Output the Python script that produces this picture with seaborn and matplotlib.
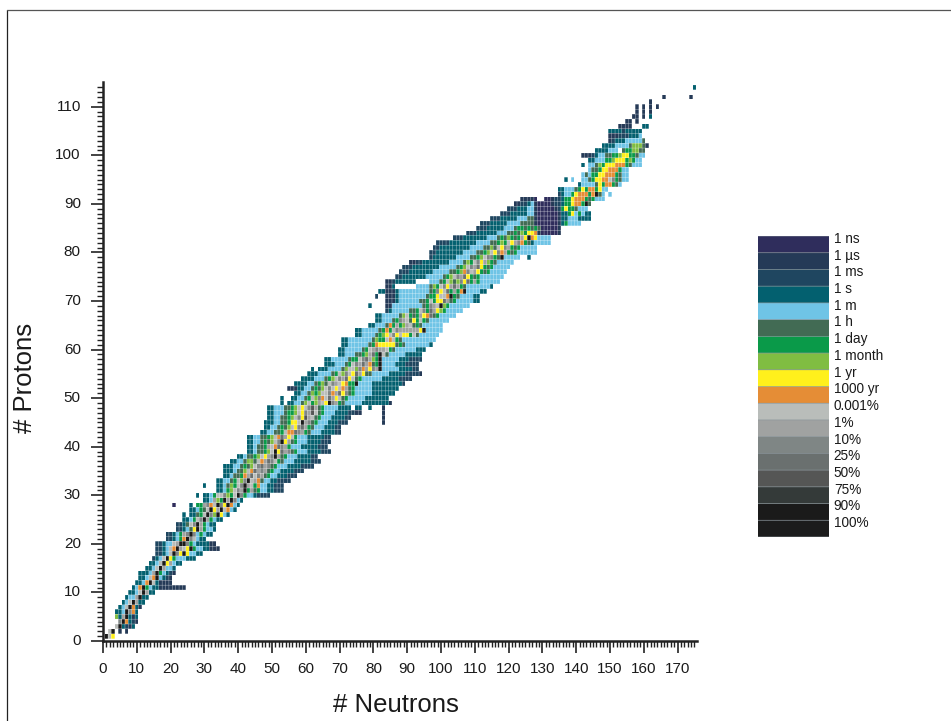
"""Chart of nuclides: half-life and abundance by neutron and proton number."""
import matplotlib
matplotlib.use("Agg")
import matplotlib.pyplot as plt
from matplotlib.colors import ListedColormap
from matplotlib.lines import Line2D
import numpy as np
import seaborn as sns

LEGEND_LABELS = ["1 ns", "1 \u00b5s", "1 ms", "1 s", "1 m", "1 h", "1 day", "1 month", "1 yr",
                 "1000 yr", "0.001%", "1%", "10%", "25%", "50%", "75%", "90%", "100%"]
LEGEND_COLORS = ["#2f2d5c", "#253a57", "#1f4660", "#03606f", "#6fc4e6", "#426b54",
                 "#0a9a49", "#80bd42", "#fff01c", "#e58d36", "#b9bdba", "#a0a2a1",
                 "#7f8685", "#6a706f", "#555655", "#343a39", "#1a1a1a", "#1c1c1c"]
CODES = "abcdefghijklmnopqr"

X_TICKS = list(range(0, 171, 10))
Y_TICKS = list(range(0, 111, 10))

# proton number, first neutron number, one letter per nuclide (CODES order, "." = none)
ROWS = [
    (1, 1, "qki"),
    (2, 2, "kq.b.b"),
    (3, 4, "kqdcbd"),
    (4, 4, ".mqjdcb"),
    (5, 4, "hdlqdbd"),
    (6, 4, "ddeqmjd"),
    (7, 5, "dekqjdb"),
    (8, 6, "dekqldd"),
    (9, 7, "deelqdd"),
    (10, 8, "ddekqldd"),
    (11, 9, "dejqgeddbbbbbbbb"),
    (12, 10, "ddejqkdbbbb"),
    (13, 11, "ddekjqedcb"),
    (14, 11, "dddelqgedcb"),
    (15, 13, "ddekqleed"),
    (16, 14, "ddekqiledd"),
    (17, 15, "cdekqigeeeddd"),
    (18, 16, "ccdekqmiqieedd"),
    (19, 16, "ccdekjqlkiqgeeddbbb"),
    (20, 16, "ccdeeklqqmgeddddbb"),
    (21, 19, "ccdegjqmkedd"),
    (22, 19, "ccdeglmqmegedd"),
    (23, 22, "ccdefiqlgeed"),
    (24, 22, "ccdfkmqlgedd"),
    (25, 24, "ddegkmqlgedd"),
    (26, 24, "d.ddfgkqmhqied"),
    (27, 26, "ddegfkqilqkjed"),
    (28, 21, "a....d.gglmjkqmiqjed"),
    (29, 30, "ddelhgqlqmed"),
    (30, 28, "d.ddegkkmhgkqmgeedcccc"),
    (31, 34, "ddeghkmlqglfgeeddccc"),
    (32, 30, "d...ddefhgkmqlkgjeeddccc"),
    (33, 34, "ddeefgkhmqkljfeeddcccc"),
    (34, 36, "ddeffgjlnkmlfgeedddccc"),
    (35, 36, "dddeffhkjnlmlfgeeddddccc"),
    (36, 36, "dddeefgfhkmnlmfgeeeddddcccc"),
    (37, 38, "ddeefhhfkjlnmkgfeeedddddccc"),
    (38, 40, "ddeffghkilmqlfgeeeddddcc"),
    (39, 43, "ddeffghkqinlmfgeeeddddccc"),
    (40, 43, "ddeffglkjnmlgeeedddddccc"),
    (41, 43, "ddeefgfhkmqilfgeeeddddccc"),
    (42, 43, "ddeeffghkjnlikgeeedddddcc"),
    (43, 47, "ddeeffgkjjnmlgfeeeddddcc"),
    (44, 48, "ddeefgfhkimnlgfeeedddcc"),
    (45, 48, "dddeeffgiikqlmfgeeedddccc..........b"),
    (46, 49, "ddeeffghkmiolkfgeeeddddcc.........b"),
    (47, 49, "ddeeefgghkimlokfgeeeddddccbb......b"),
    (48, 49, "ddeeeffghkikmolfgeeeedddd.dd..d...b"),
    (49, 53, "d.ddeefhkghlkiqmlgfeeeeeddddddddb"),
    (50, 53, "d..ddeefgkhmjknlikfgeeeeeddddddd"),
    (51, 57, "ddeefhghkkmjlnimfgeeeeeddddddd"),
    (52, 55, "bbbddeefgfhkmkikjlfgeeeeedddddddd"),
    (53, 57, "ddddeefghfkmlkijggqeeeedddddddddc"),
    (54, 59, "ddddeeefghkmlnikfgeeeeeedddddcccc"),
    (55, 61, "dddeeeefgkhmkinliffeeeeedddddccccb"),
    (56, 62, "d.dddeeeefhkkhmjlimlqeeeeeddddcc"),
    (57, 66, "dddeeefgkmlnljfgqeeeedddcccc"),
    (58, 66, "ddeeeeefggkmnlhgqeeeeedddcccc"),
    (59, 70, "ddeeeffghlngqkfeeeeeddddd"),
    (60, 70, "ddeeeeefgklmllkgfeeeeeeddd"),
    (61, 71, "ddeeeeeefgjiiiiifgfeeeeeeed"),
    (62, 71, "ddeeeeeeefhggkjkgfeeeeeeeeee"),
    (63, 75, "ddeeeefghikmikiigkfeeeeee"),
    (64, 75, "ddeeeeefgjgkmlllllliqeeeee"),
    (65, 79, "ddeeefjglghlkfgfeeeeee"),
    (66, 81, "ddeeefgmlkfigkgfeeeeee"),
    (67, 81, "ddeeeeefhkgfglijnfgeeeee"),
    (68, 84, "cdeeeeeffgkmgnlihgeeeee"),
    (69, 79, "d....bbeeeeeeeeefgmlkqhgeeeeee"),
    (70, 84, "bbbdeeeeeeffgkgiinlfgeeeeedd"),
    (71, 81, "c..bbbdeeeeeeeefggikkjqgfeeeedd"),
    (72, 82, "ddbbbdeeeeeeeeefgmiknglgjqeeeedd"),
    (73, 84, "bbd......eeeefhgkmilnlgfeeeeeeed"),
    (74, 84, "bbcdddddd....eeefgkhfhminglgeeeeee"),
    (75, 87, "ccdddddddeeeeefghkmlnigfgeeeeeee"),
    (76, 88, "cccdddddddeeeeeffghjmkligfgeeeee"),
    (77, 89, "cccddddddddeeeeefghkmlnigfgeeeee"),
    (78, 91, "bbccddddddddeeeefhgkmilhgfeeeee"),
    (79, 97, "cdddddddeeeeffghkmmgfqeeeee..d"),
    (80, 97, "ccddddddddeeeeffghkimjlgfgeeeeee"),
    (81, 98, "ccdddddddddeeeeffhfkimlgfgeeeee"),
    (82, 99, "ccccddddddddeeeeffghgkilmjgfdeeeee"),
    (83, 104, "cccdddddddeeefgfhgfgliqjieeee"),
    (84, 108, "cccddddddeeeffgfhgiijbaaaaab"),
    (85, 111, "cccdddddeeefggfgfgfaaaaab"),
    (86, 112, "cccdddddeeeeffffbaaaaaabdgeeee"),
    (87, 115, "cccdddddeeeffbaaaaaabddeeedddd"),
    (88, 118, "cccdddddeebaaaaaabddgiegedd"),
    (89, 120, "cccdddeebaaaaabcgiggfeee"),
    (90, 122, "bbccdebaaaabccdggijjgqf"),
    (91, 124, "bbbba..aabccdggijjjgfgeee"),
    (92, 135, "cdeegijjjgjqfe.e"),
    (93, 135, "ddeeefgigjjgiee"),
    (94, 141, "deeeefigjjgfe"),
    (95, 137, "d.e..eefgiijjkmgfee"),
    (96, 142, "efeggiijjjgfee"),
    (97, 144, "effgiijjjgee"),
    (98, 142, "d.eefhgiiijjjgfeee"),
    (99, 144, "ddeeegghiiighgee"),
    (100, 142, "bbbcdeeffgghiiggfee"),
    (101, 146, "ddddeee.fgghhff"),
    (102, 148, "ddddeeeefhhhfb"),
    (103, 150, "bcdddeeeeef"),
    (104, 150, "bbbcccddde"),
    (105, 150, "ddddcddddd"),
    (106, 153, "bbbb...dd"),
    (107, 155, "bb.b"),
    (108, 157, "bb.b.d"),
    (109, 158, "b.b.b"),
    (110, 158, "b.b.b.b"),
    (111, 162, "b"),
    (112, 166, "b.......b"),
    (114, 175, "d"),
]


def build_matrix(rows):
    matrix = np.full((116, 177), np.nan)
    for z, first, cells in rows:
        for i, c in enumerate(cells):
            if c != ".":
                matrix[z, first + i] = CODES.index(c)
    return matrix


def px_axes(fig, x0, y0, x1, y1):
    w, h = fig.get_size_inches() * fig.dpi
    return fig.add_axes([x0 / w, 1 - y1 / h, (x1 - x0) / w, (y1 - y0) / h])


sns.set_theme(style="white")
plt.rcParams["font.family"] = ["Liberation Sans", "DejaVu Sans"]

cmap = ListedColormap(LEGEND_COLORS)
fig = plt.figure(figsize=(9.51, 7.21), dpi=100)

ax = px_axes(fig, 103, 82, 697, 641)
matrix = build_matrix(ROWS)
sns.heatmap(matrix, cmap=cmap, vmin=-0.5, vmax=17.5, cbar=False, linewidths=0, ax=ax)
# thin white lines between cells, the mesh edges would snap to a whole pixel
ax.vlines(np.arange(matrix.shape[1] + 1), 0, matrix.shape[0], color="white", lw=0.3, alpha=0.7).set_snap(False)
ax.hlines(np.arange(matrix.shape[0] + 1), 0, matrix.shape[1], color="white", lw=0.3, alpha=0.7).set_snap(False)
ax.set_xlim(0.5, 176.25)
ax.set_ylim(0.5, 115.6)
ax.set_xticks(np.array(X_TICKS) + 0.5, X_TICKS, rotation=0)
ax.set_yticks(np.array(Y_TICKS) + 0.5, Y_TICKS, rotation=0)
ax.set_xticks(np.arange(0, 176) + 0.5, minor=True)
ax.set_yticks(np.arange(0, 115) + 0.5, minor=True)
ax.tick_params(which="major", length=8.5, width=1.2, color="#222222", labelsize=11,
               labelcolor="#1a1a1a", pad=6.5, bottom=True, left=True)
ax.tick_params(axis="y", which="major", pad=7.5)
ax.tick_params(which="minor", length=4.3, width=1, color="#222222", bottom=True, left=True)
ax.set_xlabel("")
ax.set_ylabel("")
sns.despine(ax=ax)
for side in ["left", "bottom"]:
    ax.spines[side].set_visible(True)
    ax.spines[side].set_linewidth(1.8)
    ax.spines[side].set_color("#222222")

fig.text(396 / 951, 1 - 705 / 721, "# Neutrons", fontsize=18.5, color="#1a1a1a",
         ha="center", va="center")
fig.text(25 / 951, 1 - 378 / 721, "# Protons", fontsize=18.5, color="#1a1a1a",
         rotation=90, ha="center", va="center")

# legend is a one column heatmap, labels sit near the top of each cell
lax = px_axes(fig, 758, 236, 829, 537)
sns.heatmap(np.arange(len(LEGEND_COLORS)).reshape(-1, 1), cmap=cmap, vmin=-0.5, vmax=17.5,
            cbar=False, linewidths=0, xticklabels=False, ax=lax)
lax.hlines(np.arange(len(LEGEND_COLORS) + 1), 0, 1, color="#8c979c", lw=0.5).set_snap(False)
lax.yaxis.tick_right()
lax.set_yticks(np.arange(len(LEGEND_LABELS)) + 0.08, LEGEND_LABELS, rotation=0)
lax.tick_params(axis="y", length=0, pad=3.5, labelsize=9.8, labelcolor="#1a1a1a")

# page frame of the scanned figure
fig.add_artist(Line2D([7 / 951, 7 / 951], [0, 1 - 9.5 / 721], color="#222222", lw=0.9))
fig.add_artist(Line2D([7 / 951, 1], [1 - 9.5 / 721, 1 - 9.5 / 721], color="#555555", lw=0.9))

fig.savefig("out.png", dpi=100)
plt.close(fig)
